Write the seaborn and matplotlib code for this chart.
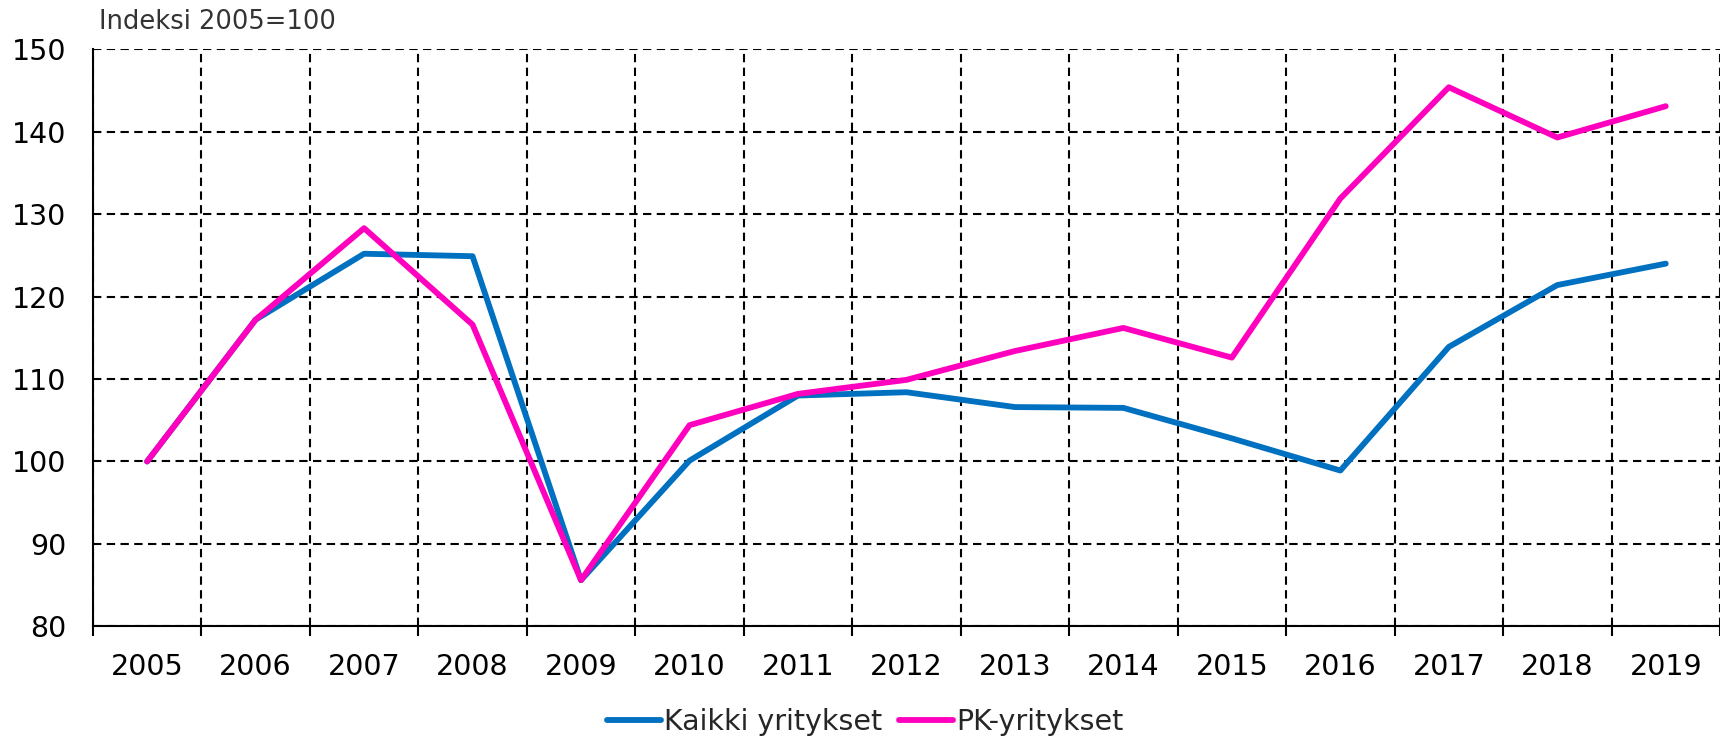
import matplotlib
matplotlib.use("Agg")
import matplotlib.pyplot as plt
import seaborn as sns
import pandas as pd
import numpy as np
from matplotlib.ticker import FixedLocator
from matplotlib.lines import Line2D

years = ["2005", "2006", "2007", "2008", "2009", "2010", "2011", "2012",
         "2013", "2014", "2015", "2016", "2017", "2018", "2019"]
kaikki = [100.0, 117.2, 125.2, 124.9, 85.6, 100.1, 108.0, 108.4,
          106.6, 106.5, 102.8, 98.9, 113.9, 121.4, 124.0]
pk = [100.0, 117.2, 128.3, 116.6, 85.6, 104.4, 108.2, 109.9,
      113.4, 116.2, 112.6, 131.9, 145.4, 139.3, 143.1]
series_names = ["Kaikki yritykset", "PK-yritykset"]
colors = ["#0070C0", "#FF00BF"]
y_title = "Indeksi 2005=100"

pos = np.arange(len(years))
df = pd.DataFrame({
    "pos": np.concatenate([pos, pos]),
    "value": kaikki + pk,
    "series": [series_names[0]] * len(years) + [series_names[1]] * len(years),
})

sns.set_theme(style="white")
plt.rcParams['font.family'] = ['DejaVu Sans']

fig = plt.figure(figsize=(17.2, 7.36), dpi=100)
ax = fig.add_axes([0.054, 0.149, 0.946, 0.784])

sns.lineplot(data=df, x="pos", y="value", hue="series", palette=colors,
             linewidth=4.2, ax=ax, legend=False, solid_capstyle="round")

ax.set_xlim(-0.5, len(years) - 0.5)
ax.set_ylim(80, 150)
ax.set_yticks(range(80, 151, 10))
ax.set_xticks(pos)
ax.set_xticklabels(years)
ax.xaxis.set_minor_locator(FixedLocator(np.arange(-0.5, len(years), 1.0)))

ax.grid(False)
ax.yaxis.grid(True, which="major", color="black", linestyle=(0, (4, 2.6)), linewidth=1.5)
ax.xaxis.grid(True, which="minor", color="black", linestyle=(0, (4, 2.6)), linewidth=1.5)
ax.set_axisbelow(True)

for s in ["top", "right"]:
    ax.spines[s].set_visible(False)
for s in ["left", "bottom"]:
    ax.spines[s].set_visible(True)
    ax.spines[s].set_color("black")
    ax.spines[s].set_linewidth(1.5)

ax.tick_params(axis="x", which="major", length=0, labelsize=20.5, pad=19, colors="black")
ax.tick_params(axis="x", which="minor", length=7, width=1.5, direction="out", colors="black", bottom=True)
ax.tick_params(axis="y", which="major", length=0, labelsize=20.5, pad=19, colors="black")
ax.set_xlabel("")
ax.set_ylabel("")

fig.text(0.0575, 0.953, y_title, fontsize=18.5, color="#333333", ha="left", va="bottom")

handles = [Line2D([0], [0], color=c, linewidth=4.2, solid_capstyle="round") for c in colors]
fig.legend(handles, series_names, loc="lower center", bbox_to_anchor=(0.503, -0.035),
           ncol=2, frameon=False, fontsize=20.5, handlelength=1.9, handletextpad=0.1,
           columnspacing=0.6)

fig.savefig("out.png", dpi=100)
